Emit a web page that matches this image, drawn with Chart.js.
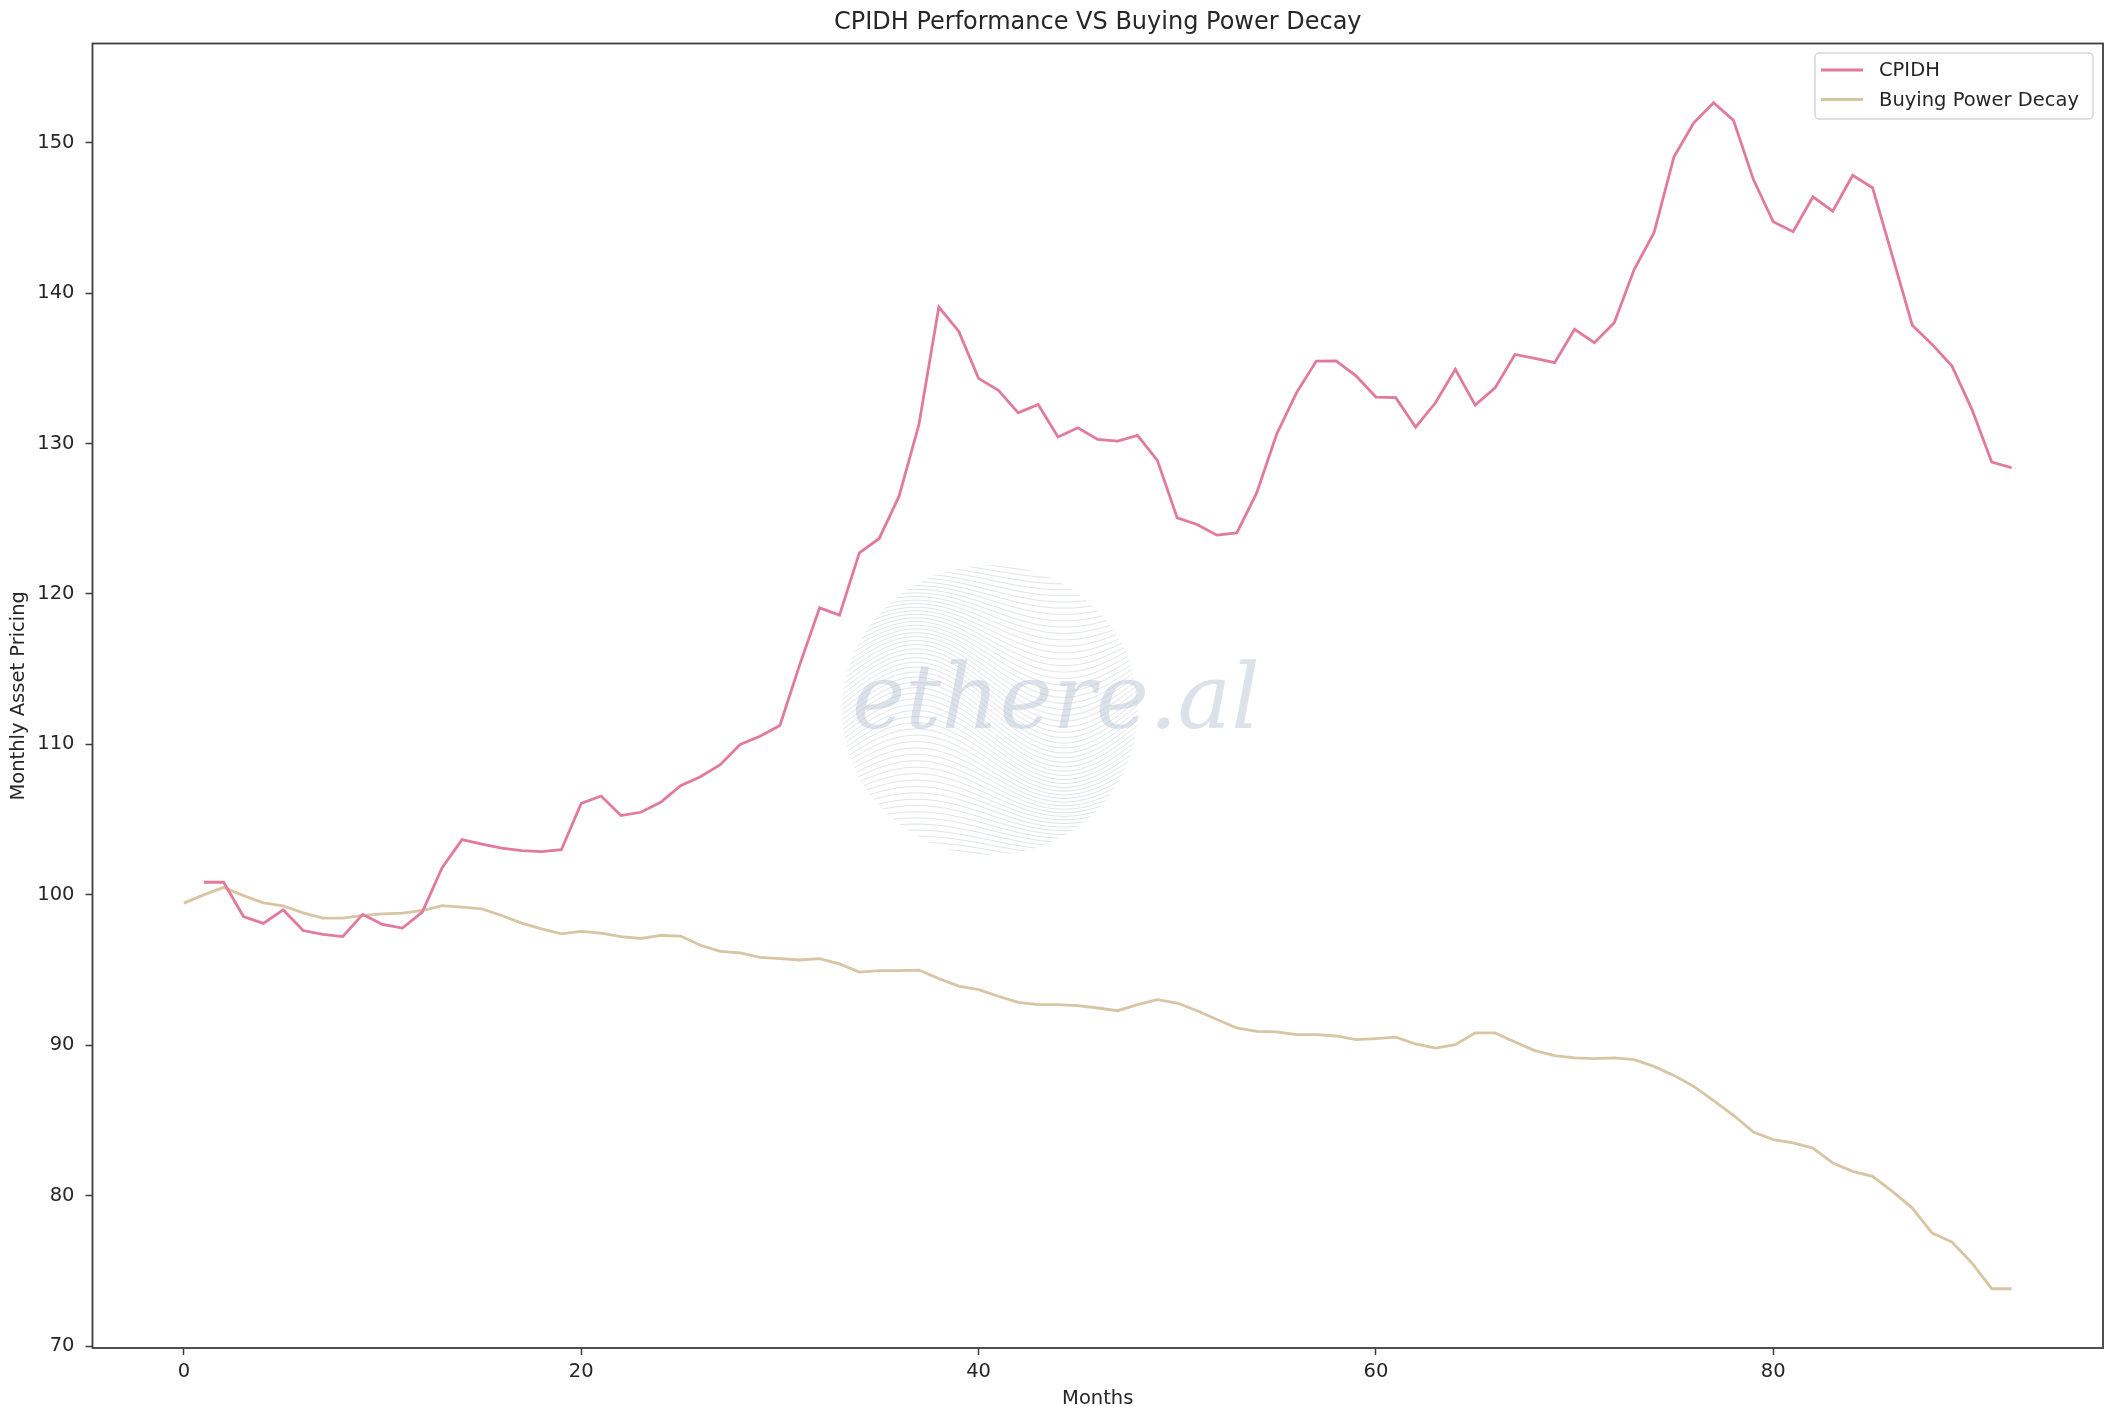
<!DOCTYPE html>
<html>
<head>
<meta charset="utf-8">
<title>CPIDH Performance VS Buying Power Decay</title>
<script src="https://cdn.jsdelivr.net/npm/chart.js@4.4.1/dist/chart.umd.min.js"></script>
<style>
  html, body { margin: 0; padding: 0; background: #fff; }
  #wrap { width: 2115px; height: 1421px; position: relative; }
</style>
</head>
<body>
<div id="wrap"><canvas id="cpiChart"></canvas></div>
<script>
// data
const cpidh = [null,
    100.84, 100.84, 98.56, 98.10, 99.00, 97.63, 97.37, 97.23, 98.70, 98.03,
    97.79, 98.85, 101.80, 103.67, 103.38, 103.10, 102.94, 102.88, 103.00, 106.08,
    106.57, 105.27, 105.49, 106.15, 107.26, 107.85, 108.65, 110.00, 110.54, 111.26,
    115.30, 119.08, 118.59, 122.73, 123.69, 126.50, 131.27, 139.07, 137.47, 134.33,
    133.53, 132.04, 132.60, 130.43, 131.05, 130.27, 130.16, 130.54, 128.88, 125.06,
    124.62, 123.91, 124.06, 126.72, 130.60, 133.37, 135.48, 135.50, 134.50, 133.09,
    133.05, 131.09, 132.71, 134.93, 132.55, 133.70, 135.92, 135.66, 135.37, 137.59,
    136.70, 138.03, 141.57, 144.01, 149.04, 151.32, 152.65, 151.48, 147.56, 144.74,
    144.08, 146.40, 145.45, 147.83, 147.00, 142.46, 137.87, 136.59, 135.15, 132.27,
    128.76, 128.39];

const buyingPower = [99.45,
    100.00, 100.50, 99.95, 99.47, 99.27, 98.80, 98.45, 98.45, 98.63, 98.74,
    98.78, 98.96, 99.29, 99.18, 99.07, 98.63, 98.12, 97.74, 97.41, 97.57,
    97.46, 97.23, 97.10, 97.30, 97.26, 96.65, 96.25, 96.14, 95.85, 95.76,
    95.67, 95.76, 95.41, 94.87, 94.96, 94.96, 95.00, 94.43, 93.94, 93.70,
    93.26, 92.86, 92.70, 92.70, 92.64, 92.48, 92.30, 92.70, 93.04, 92.81,
    92.30, 91.71, 91.15, 90.93, 90.89, 90.71, 90.71, 90.62, 90.38, 90.45,
    90.54, 90.09, 89.82, 90.04, 90.82, 90.82, 90.22, 89.65, 89.31, 89.16,
    89.12, 89.16, 89.05, 88.60, 88.00, 87.27, 86.32, 85.35, 84.24, 83.73,
    83.51, 83.17, 82.18, 81.62, 81.29, 80.29, 79.18, 77.52, 76.92, 75.53,
    73.82, 73.82];

const xTicks = [0, 20, 40, 60, 80];
const yTicks = [70, 80, 90, 100, 110, 120, 130, 140, 150];

const chartTitle = "CPIDH Performance VS Buying Power Decay";

const toPoints = arr => arr.map((v, i) => ({ x: i, y: v })).filter(p => p.y !== null);

const AXIS = "#3c3c3c";
const TEXT = "#262626";

// title centred over the plot area, like matplotlib does
const axTitle = {
    id: "axTitle",
    afterDraw(chart) {
        const a = chart.chartArea, ctx = chart.ctx;
        ctx.save();
        ctx.font = '24px "DejaVu Sans"';
        ctx.fillStyle = TEXT;
        ctx.textAlign = "center";
        ctx.textBaseline = "middle";
        ctx.fillText(chartTitle, (a.left + a.right) / 2, 23);
        ctx.restore();
    }
};

// legend box in upper right, drawn like matplotlib's
const boxLegend = {
    id: "boxLegend",
    afterDraw(chart) {
        const ctx = chart.ctx;
        const x0 = 1815, y0 = 53, w = 278, h = 66;
        ctx.save();
        ctx.fillStyle = "rgba(255,255,255,0.8)";
        ctx.strokeStyle = "#d6d6d6";
        ctx.lineWidth = 1.5;
        ctx.beginPath();
        ctx.roundRect(x0, y0, w, h, 4);
        ctx.fill();
        ctx.stroke();
        ctx.font = '19.5px "DejaVu Sans"';
        ctx.textBaseline = "middle";
        ctx.fillStyle = TEXT;
        chart.data.datasets.forEach((ds, i) => {
            const y = 70 + i * 29.5;
            ctx.strokeStyle = ds.borderColor;
            ctx.lineWidth = ds.borderWidth;
            ctx.beginPath();
            ctx.moveTo(1821, y);
            ctx.lineTo(1863, y);
            ctx.stroke();
            ctx.fillText(ds.label, 1879, y + 1);
        });
        ctx.restore();
    }
};

// frame around the plot area (all four spines)
const frame = {
    id: "frame",
    afterDatasetsDraw(chart) {
        const a = chart.chartArea, ctx = chart.ctx;
        ctx.save();
        ctx.strokeStyle = AXIS;
        ctx.lineWidth = 1.8;
        ctx.strokeRect(a.left, a.top, a.right - a.left, a.bottom - a.top);
        ctx.restore();
    }
};

// faint watermark behind the lines
const watermark = {
    id: "watermark",
    beforeDatasetsDraw(chart) {
        const ctx = chart.ctx;
        const cx = 990, cy = 710, r = 148;
        ctx.save();
        ctx.beginPath();
        ctx.ellipse(cx, cy, r, r - 3, 0, 0, Math.PI * 2);
        ctx.clip();
        ctx.strokeStyle = "rgba(195,202,214,0.5)";
        ctx.lineWidth = 1;
        for (let k = -30; k <= 30; k++) {
            ctx.beginPath();
            for (let dx = -r; dx <= r; dx += 4) {
                const t = dx / r;
                const y = cy + k * 5 + 38 * Math.sin(t * Math.PI) * Math.exp(-(k * k) / 500);
                if (dx === -r) ctx.moveTo(cx + dx, y); else ctx.lineTo(cx + dx, y);
            }
            ctx.stroke();
        }
        ctx.restore();
        ctx.save();
        ctx.font = 'italic 90px "DejaVu Serif"';
        ctx.fillStyle = "rgba(180,191,208,0.45)";
        ctx.textBaseline = "alphabetic";
        ctx.fillText("ethere.al", 852, 728);
        ctx.restore();
    }
};

new Chart(document.getElementById("cpiChart"), {
    type: "line",
    data: {
        datasets: [
            { label: "CPIDH", data: toPoints(cpidh), borderColor: "#e27a9c", borderWidth: 2.8, pointRadius: 0, tension: 0, fill: false },
            { label: "Buying Power Decay", data: toPoints(buyingPower), borderColor: "#d8c5a3", borderWidth: 2.8, pointRadius: 0, tension: 0, fill: false }
        ]
    },
    options: {
        responsive: true,
        maintainAspectRatio: false,
        devicePixelRatio: 1,
        animation: false,
        layout: { padding: { left: 0, right: 12, top: 43.5, bottom: 0 } },
        plugins: {
            legend: { display: false },
            tooltip: { enabled: false },
            title: { display: false }
        },
        scales: {
            x: {
                type: "linear",
                min: -4.6,
                max: 96.6,
                afterBuildTicks: s => { s.ticks = xTicks.map(v => ({ value: v })); },
                afterFit: s => { s.height = 73; },
                grid: { drawOnChartArea: false, drawTicks: true, tickLength: 7, tickColor: AXIS, tickWidth: 1.5 },
                border: { display: false },
                ticks: { color: TEXT, padding: 5, font: { family: "DejaVu Sans", size: 19.5 } },
                title: { display: true, text: "Months", color: TEXT, font: { family: "DejaVu Sans", size: 19.5, lineHeight: 1.2 }, padding: { top: 0, bottom: 10 } }
            },
            y: {
                type: "linear",
                min: 69.88,
                max: 156.59,
                afterBuildTicks: s => { s.ticks = yTicks.map(v => ({ value: v })); },
                afterFit: s => { s.width = 92.5; },
                grid: { drawOnChartArea: false, drawTicks: true, tickLength: 7, tickColor: AXIS, tickWidth: 1.5 },
                border: { display: false },
                ticks: { color: TEXT, padding: 11, font: { family: "DejaVu Sans", size: 19.5 } },
                title: { display: true, text: "Monthly Asset Pricing", color: TEXT, font: { family: "DejaVu Sans", size: 19.5, lineHeight: 1.2 }, padding: { top: 7, bottom: 0 } }
            }
        }
    },
    plugins: [watermark, frame, axTitle, boxLegend]
});
</script>
</body>
</html>
